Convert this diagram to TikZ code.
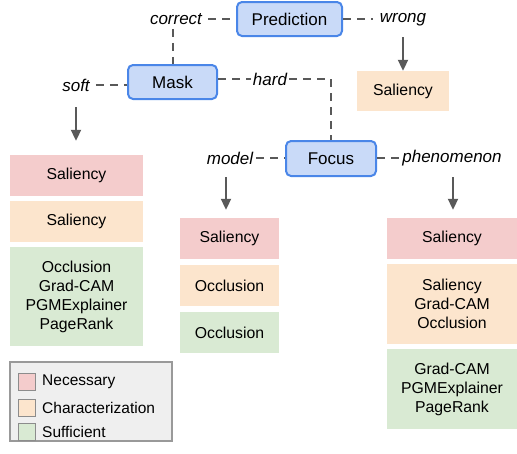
\documentclass[tikz,border=0pt]{standalone}
\usepackage{fontspec}
\setmainfont{Liberation Sans}
\usetikzlibrary{arrows.meta}
\definecolor{pinkc}{HTML}{F4CCCC}
\definecolor{orangec}{HTML}{FCE5CD}
\definecolor{greenc}{HTML}{D9EAD3}
\definecolor{bluef}{HTML}{C9DAF8}
\definecolor{blued}{HTML}{4A86E8}
\definecolor{lineg}{HTML}{595959}
\definecolor{legf}{HTML}{EFEFEF}
\definecolor{legb}{HTML}{999999}
\definecolor{swb}{HTML}{8C8C8C}
\begin{document}
\begin{tikzpicture}[x=1pt,y=-1pt,
 decision/.style={draw=blued, fill=bluef, line width=2pt, rounded corners=5pt, font=\fontsize{17}{20}\selectfont, inner sep=0pt},
 lbl/.style={font=\fontsize{17}{20}\selectfont\itshape, inner sep=0pt},
 result/.style={fill=#1, inner sep=0pt, align=center, font=\fontsize{15.8}{19}\selectfont},
 swatch/.style={fill=#1, draw=swb, line width=1pt, minimum size=17pt, inner sep=0pt},
 legtext/.style={anchor=west, inner sep=0pt, font=\fontsize{15.5}{18}\selectfont},
 dline/.style={draw=lineg, line width=2pt, dash pattern=on 8pt off 6pt},
 arr/.style={draw=lineg, line width=2pt, -{Triangle[length=11pt,width=10pt]}},
]
\useasboundingbox (0,0) rectangle (517,453);

% decision nodes
\node[decision, minimum width=105pt, minimum height=34pt] (pred) at (289.5,19) {Prediction};
\node[decision, minimum width=89pt, minimum height=34pt] (mask) at (172.5,82) {Mask};
\node[decision, minimum width=90pt, minimum height=35pt] (focus) at (331,158.5) {Focus};

% labels
\node[lbl] (correct) at (176,19) {correct};
\node[lbl] (wrong) at (403,20) {wrong};
\node[lbl] (soft) at (76,85) {soft};
\node[lbl] (hard) at (270,79) {hard};
\node[lbl] (model) at (230,158) {model};
\node[lbl] (phen) at (452,158) {phenomenon};

% result boxes
\node[result=orangec, minimum width=92pt, minimum height=40pt] (w1) at (403,91) {Saliency};

\node[result=pinkc, minimum width=133pt, minimum height=41pt] (l1) at (76.5,175.5) {Saliency};
\node[result=orangec, minimum width=133pt, minimum height=41pt] (l2) at (76.5,221.5) {Saliency};
\node[result=greenc, minimum width=133pt, minimum height=99pt] (l3) at (76.5,296.5) {Occlusion\\Grad-CAM\\PGMExplainer\\PageRank};

\node[result=pinkc, minimum width=99pt, minimum height=41pt] (m1) at (229.5,238.5) {Saliency};
\node[result=orangec, minimum width=99pt, minimum height=41pt] (m2) at (229.5,285.5) {Occlusion};
\node[result=greenc, minimum width=99pt, minimum height=41pt] (m3) at (229.5,332.5) {Occlusion};

\node[result=pinkc, minimum width=130pt, minimum height=41pt] (r1) at (452,238.5) {Saliency};
\node[result=orangec, minimum width=130pt, minimum height=80pt] (r2) at (452,304) {Saliency\\Grad-CAM\\Occlusion};
\node[result=greenc, minimum width=130pt, minimum height=80pt] (r3) at (452,389) {Grad-CAM\\PGMExplainer\\PageRank};

% dashed connectors
\draw[dline, shorten <=6pt] (correct.east) -- (pred.west);
\draw[dline, shorten <=4pt] (mask.north |- correct.south) -- (mask.north);
\draw[dline, shorten <=6pt] (soft.east) -- (soft.east -| mask.west);
\draw[dline, shorten >=2pt] (hard.west -| mask.east) -- (hard.west);
\draw[dline, shorten <=2pt] (hard.east) -- (hard.east -| focus.north) -- (focus.north);
\draw[dline, shorten <=3pt] (model.east) -- (model.east -| focus.west);
\draw[dline, shorten >=2pt] (phen.west -| focus.east) -- (phen.west);
\draw[dline, shorten >=7pt] (pred.east) -- (pred.east -| wrong.west);

% arrows
\draw[arr, shorten <=17pt] (wrong.center) -- (wrong.center |- w1.north);
\draw[arr, shorten <=22pt, shorten >=14pt] (soft.center) -- (soft.center |- l1.north);
\draw[arr, shorten <=19pt, shorten >=8pt] ([xshift=-4pt]model.center) -- ([xshift=-4pt]model.center |- m1.north);
\draw[arr, shorten <=19pt, shorten >=8pt] ([xshift=1pt]phen.center) -- ([xshift=1pt]phen.center |- r1.north);

% legend
\node[draw=legb, fill=legf, line width=1.5pt, minimum width=162pt, minimum height=79pt, inner sep=0pt] (legend) at (91,401.5) {};
\node[swatch=pinkc] (s1) at (27,381.5) {};
\node[swatch=orangec] (s2) at (27,408) {};
\node[swatch=greenc] (s3) at (27,431.5) {};
\node[legtext] (t1) at (42,381.5) {Necessary};
\node[legtext] (t2) at (42,407.5) {Characterization};
\node[legtext] (t3) at (42,432) {Sufficient};
\end{tikzpicture}
\end{document}
